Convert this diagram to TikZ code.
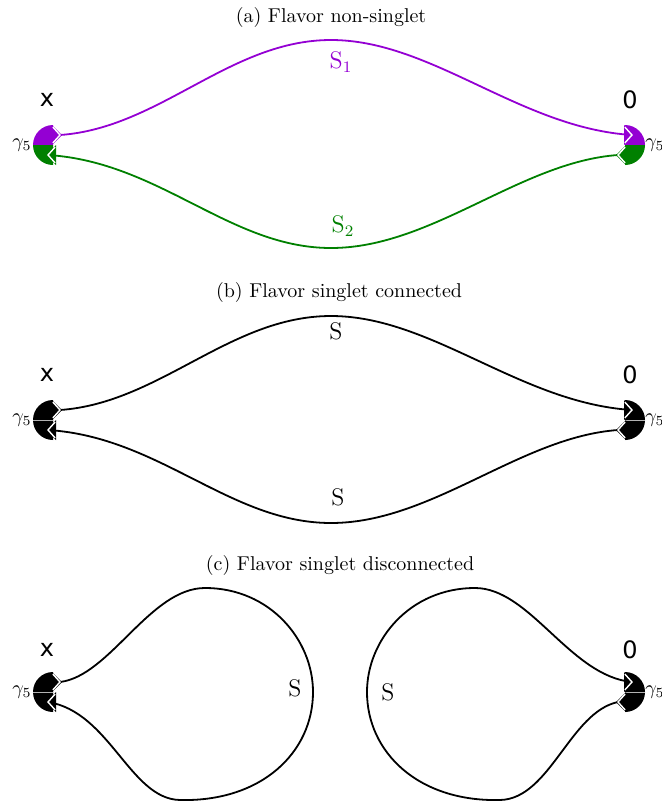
\documentclass[tikz,border=0pt]{standalone}
\usepackage{fontspec}
\newfontfamily\labfont{DejaVu Sans}
\usetikzlibrary{arrows.meta}
\definecolor{sviolet}{RGB}{148,0,211}
\definecolor{sgreen}{RGB}{0,128,0}
\tikzset{
  prop/.style={line width=0.9pt, draw=#1},
  ttl/.style={font=\normalsize},
  vlab/.style={font=\labfont\fontsize{12}{14}\selectfont},
  glab/.style={font=\normalsize, inner sep=0pt},
  slab/.style={font=\large, inner sep=1pt}
}
% half disc vertex: centre, delta angle (90 left / -90 right), top colour, bottom colour
\newcommand{\qvertex}[4]{%
  \fill[#3] (#1) -- ++(0pt,10pt) arc[start angle=90, delta angle=#2, radius=10pt] -- cycle;
  \fill[#4] (#1) -- ++(0pt,-10pt) arc[start angle=270, delta angle={-1*(#2)}, radius=10pt] -- cycle;
}
% notch at a line end: apex, direction, colour
\newcommand{\notch}[3]{%
  \begin{scope}[shift={(#1)}, rotate=#2]
    \fill[#3] (1pt,0pt) -- (-4pt,5pt) -- (-4pt,-5pt) -- cycle;
    \draw[white, line width=0.7pt] (-3.6pt,4pt) -- (0pt,0pt) -- (-3.6pt,-4pt);
  \end{scope}
}

\begin{document}
\begin{tikzpicture}[x=0.5pt, y=-0.5pt]
    \useasboundingbox (0,0) rectangle (662,804);
    % (a) flavor non-singlet
    \node[ttl] (ta) at (331,17) {(a) Flavor non-singlet};
    \coordinate (xa) at (53,145);
    \coordinate (oa) at (625,145);
    \qvertex{xa}{90}{sviolet}{sgreen}
    \qvertex{oa}{-90}{sviolet}{sgreen}
    \node[vlab] (xla) at (47,100) {x};
    \node[vlab] (ola) at (630,100) {0};
    \node[glab] (gxa) at (22,145) {$\gamma_5$};
    \node[glab] (goa) at (655,145) {$\gamma_5$};
    \coordinate (xa1) at (60,135);
    \coordinate (xa2) at (48,155);
    \coordinate (oa1) at (632,135);
    \coordinate (oa2) at (618,155);
    \draw[prop=sviolet] (xa1) .. controls (160,128) and (230,40) .. (331,40)
        .. controls (432,40) and (520,128) .. (oa1);
    \draw[prop=sgreen] (oa2) .. controls (520,162) and (432,248) .. (331,248)
        .. controls (230,248) and (160,162) .. (xa2);
    \notch{xa1}{0}{sviolet}
    \notch{xa2}{180}{sgreen}
    \notch{oa1}{0}{sviolet}
    \notch{oa2}{180}{sgreen}
    \node[slab, text=sviolet] (s1) at (341,62) {S$_1$};
    \node[slab, text=sgreen] (s2) at (343,226) {S$_2$};

    % (b) flavor singlet connected
    \node[ttl] (tb) at (339,292) {(b) Flavor singlet connected};
    \coordinate (xb) at (53,420);
    \coordinate (ob) at (625,420);
    \qvertex{xb}{90}{black}{black}
    \qvertex{ob}{-90}{black}{black}
    \node[vlab] (xlb) at (47,375) {x};
    \node[vlab] (olb) at (630,375) {0};
    \node[glab] (gxb) at (22,420) {$\gamma_5$};
    \node[glab] (gob) at (655,420) {$\gamma_5$};
    \coordinate (xb1) at (60,410);
    \coordinate (xb2) at (48,430);
    \coordinate (ob1) at (632,410);
    \coordinate (ob2) at (618,430);
    \draw[prop=black] (xb1) .. controls (160,403) and (230,316) .. (331,316)
        .. controls (432,316) and (520,403) .. (ob1);
    \draw[prop=black] (ob2) .. controls (520,437) and (432,523) .. (331,523)
        .. controls (230,523) and (160,437) .. (xb2);
    \node[slab] (sb1) at (336,331) {S};
    \node[slab] (sb2) at (338,497) {S};

    % (c) flavor singlet disconnected
    \node[ttl] (tc) at (340,565) {(c) Flavor singlet disconnected};
    \coordinate (xc) at (53,692);
    \coordinate (oc) at (625,692);
    \qvertex{xc}{90}{black}{black}
    \qvertex{oc}{-90}{black}{black}
    \node[vlab] (xlc) at (47,650) {x};
    \node[vlab] (olc) at (630,650) {0};
    \node[glab] (gxc) at (22,692) {$\gamma_5$};
    \node[glab] (goc) at (655,692) {$\gamma_5$};
    \coordinate (xc1) at (60,682);
    \coordinate (xc2) at (48,702);
    \coordinate (oc1) at (632,682);
    \coordinate (oc2) at (618,702);
    \draw[prop=black] (xc1) .. controls (110,676) and (150,588) .. (205,588)
        .. controls (270,588) and (313,640) .. (313,692)
        .. controls (313,752) and (262,802) .. (180,800)
        .. controls (130,799) and (110,712) .. (xc2);
    \draw[prop=black] (oc2) .. controls (570,712) and (550,799) .. (500,800)
        .. controls (418,802) and (367,752) .. (367,692)
        .. controls (367,640) and (410,588) .. (475,588)
        .. controls (530,588) and (570,676) .. (oc1);
    \node[slab] (sc1) at (295,688) {S};
    \node[slab] (sc2) at (388,692) {S};
    \foreach \v in {xb,xc} \draw[gray!60, line width=0.3pt] (\v) -- ++(-10pt,0pt);
    \foreach \v in {ob,oc} \draw[gray!60, line width=0.3pt] (\v) -- ++(10pt,0pt);
    \foreach \p/\d in {xb1/0,xb2/180,ob1/0,ob2/180,xc1/0,xc2/180,oc1/0,oc2/180}
        {\notch{\p}{\d}{black}}
\end{tikzpicture}
\end{document}
